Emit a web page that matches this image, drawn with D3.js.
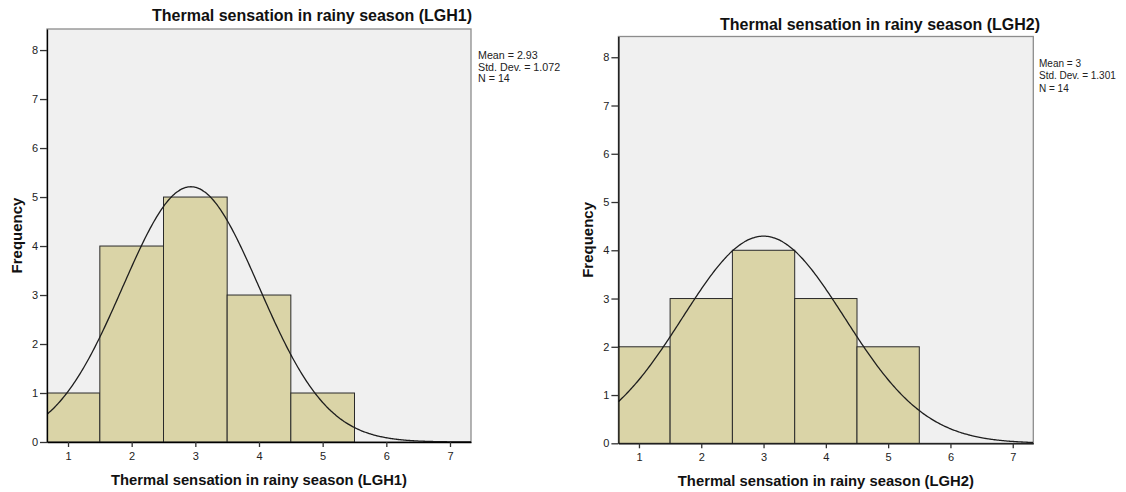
<!DOCTYPE html>
<html><head><meta charset="utf-8">
<script src="https://cdn.jsdelivr.net/npm/d3@7"></script>
<style>
body{margin:0;background:#fff}
svg{display:block}
text{font-family:"Liberation Sans",Arial,sans-serif}
</style>
</head><body>
<svg id="c" width="1126" height="492"></svg>
<script>
// ---- data ----
const binCenters = [1, 2, 3, 4, 5];
const freqLGH1 = [1, 4, 5, 3, 1];
const freqLGH2 = [2, 3, 4, 3, 2];
const xTickValues = [1, 2, 3, 4, 5, 6, 7];
const yTickValues = [0, 1, 2, 3, 4, 5, 6, 7, 8];
const titles = ["Thermal sensation in rainy season (LGH1)", "Thermal sensation in rainy season (LGH2)"];
const xTitles = ["Thermal sensation in rainy season (LGH1)", "Thermal sensation in rainy season (LGH2)"];
const yTitle = "Frequency";
const means = [2.93, 3];
const meanLabels = ["2.93", "3"];
const sds = [1.072, 1.301];
const sdLabels = ["1.072", "1.301"];
const ns = [14, 14];
const xDomain = [0.67, 7.33];
const yDomain = [0, 8.43];

// ---- layout ----
const layouts = [
  {x0: 47, x1: 471, yb: 442, yt: 29, titleX: 152, titleY: 21, statsX: 478, statsY: 59, statsSize: 10.7, statsGap: 11.6, yTitleX: 22},
  {x0: 618.4, x1: 1033.3, yb: 443.3, yt: 36.5, titleX: 720, titleY: 30, statsX: 1039, statsY: 67, statsSize: 10, statsGap: 12.3, yTitleX: 593}
];

const svg = d3.select("#c");
const series = [freqLGH1, freqLGH2];

layouts.forEach((L, i) => {
  const x = d3.scaleLinear().domain(xDomain).range([L.x0, L.x1]);
  const y = d3.scaleLinear().domain(yDomain).range([L.yb, L.yt]);
  const g = svg.append("g");
  const clipId = "clip" + i;
  svg.append("defs").append("clipPath").attr("id", clipId)
    .append("rect").attr("x", L.x0).attr("y", L.yt).attr("width", L.x1 - L.x0).attr("height", L.yb - L.yt);

  // plot background + frame
  g.append("rect").attr("x", L.x0).attr("y", L.yt).attr("width", L.x1 - L.x0).attr("height", L.yb - L.yt)
    .attr("fill", "#f0f0f0").attr("stroke", "#8c8c8c").attr("stroke-width", 1.3);

  const pg = g.append("g").attr("clip-path", `url(#${clipId})`);
  // bars
  pg.selectAll("rect.bar").data(binCenters.map((c, k) => ({c, f: series[i][k]})))
    .join("rect").attr("class", "bar")
    .attr("x", d => x(d.c - 0.5)).attr("width", d => x(d.c + 0.5) - x(d.c - 0.5))
    .attr("y", d => y(d.f)).attr("height", d => y(0) - y(d.f))
    .attr("fill", "#dad4a7").attr("stroke", "#2a2a2a").attr("stroke-width", 1);

  // normal curve from stated mean / sd / n (bin width 1)
  const m = means[i], s = sds[i], n = ns[i];
  const pts = d3.range(xDomain[0], xDomain[1] + 0.001, 0.02).map(v =>
    [v, n * Math.exp(-((v - m) ** 2) / (2 * s * s)) / (s * Math.sqrt(2 * Math.PI))]);
  pg.append("path").datum(pts)
    .attr("d", d3.line().x(d => x(d[0])).y(d => y(d[1])).curve(d3.curveBasis))
    .attr("fill", "none").attr("stroke", "#1e1e1e").attr("stroke-width", 1.3);

  // x axis
  const xa = g.append("g").attr("transform", `translate(0,${L.yb})`)
    .call(d3.axisBottom(x).tickValues(xTickValues).tickSize(5).tickSizeOuter(0).tickPadding(5).tickFormat(d3.format("d")));
  xa.select(".domain").attr("stroke", "#000").attr("stroke-width", 1.3);
  xa.selectAll(".tick line").attr("stroke", "#333").attr("stroke-width", 1.3);
  xa.selectAll(".tick text").attr("font-size", 11).attr("fill", "#222")
    .attr("font-family", '"Liberation Sans",Arial,sans-serif');

  // y axis
  const ya = g.append("g").attr("transform", `translate(${L.x0},0)`)
    .call(d3.axisLeft(y).tickValues(yTickValues).tickSize(7).tickSizeOuter(0).tickPadding(2).tickFormat(d3.format("d")));
  ya.select(".domain").attr("stroke", "#000").attr("stroke-width", 1.3);
  ya.selectAll(".tick line").attr("stroke", "#333").attr("stroke-width", 1.3);
  ya.selectAll(".tick text").attr("font-size", 11).attr("fill", "#222")
    .attr("font-family", '"Liberation Sans",Arial,sans-serif');

  // titles
  g.append("text").attr("x", L.titleX).attr("y", L.titleY).attr("font-size", 16).attr("font-weight", "bold").attr("fill", "#111")
    .text(titles[i]);
  g.append("text").attr("x", (L.x0 + L.x1) / 2).attr("y", L.yb + 43).attr("text-anchor", "middle")
    .attr("font-size", 14.8).attr("font-weight", "bold").attr("fill", "#111").text(xTitles[i]);
  g.append("text").attr("transform", `translate(${L.yTitleX},${(L.yt + L.yb) / 2}) rotate(-90)`)
    .attr("text-anchor", "middle").attr("font-size", 15).attr("font-weight", "bold").attr("fill", "#111").text(yTitle);

  // stats
  const lines = [`Mean = ${meanLabels[i]}`, `Std. Dev. = ${sdLabels[i]}`, `N = ${ns[i]}`];
  g.selectAll("text.stat").data(lines).join("text").attr("class", "stat")
    .attr("x", L.statsX).attr("y", (d, k) => L.statsY + k * L.statsGap)
    .attr("font-size", L.statsSize).attr("fill", "#222").text(d => d);
});
</script>
</body></html>
